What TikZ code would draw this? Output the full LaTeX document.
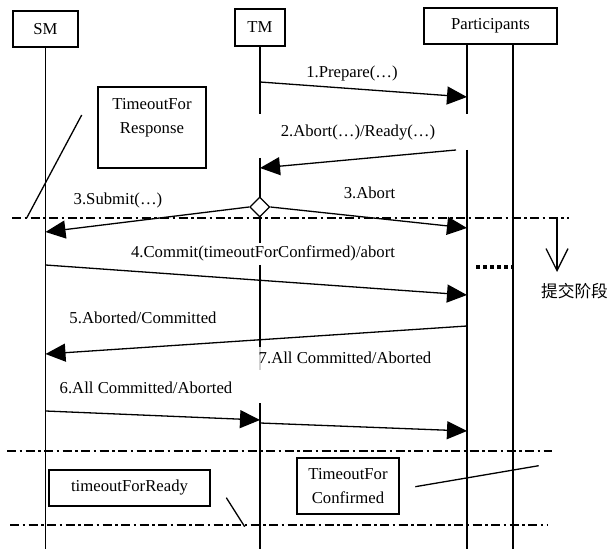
\documentclass[tikz,border=0pt]{standalone}
\usepackage{fontspec}
\setmainfont{Liberation Serif}
\newfontfamily\cjkfont{Noto Sans CJK SC}
\usetikzlibrary{arrows.meta,shapes.geometric}

\begin{document}
\begin{tikzpicture}[x=0.5pt,y=-0.5pt,font=\fontsize{8.35}{12}\selectfont,
  obj/.style={rectangle,draw,line width=0.85pt,minimum height=18pt,inner sep=0pt},
  note/.style={rectangle,draw,line width=0.7pt,align=center,inner sep=0pt},
  life/.style={line width=0.65pt},
  msg/.style={-{Triangle[length=10pt,width=9pt]},line width=0.65pt},
  lbl/.style={inner sep=0pt},
  sep/.style={line width=0.7pt,dash pattern=on 4.5pt off 1.75pt on 1.25pt off 1.75pt}]
\useasboundingbox (0,0) rectangle (609,549);
% objects and lifelines
\node[obj,minimum width=32.5pt] (sm) at (45.5,29) {SM};
\node[obj,minimum width=25pt,minimum height=18.5pt] (tm) at (260,27.5) {TM};
\node[obj,minimum width=66.5pt] (pt) at (490.5,26) {Participants};
\coordinate (p1) at (467,44); \coordinate (p2) at (513,44); \coordinate (bot) at (0,549);
\draw[life] (sm) -- (sm |- bot);
\draw[life] (tm) -- (tm |- 0,114) (tm |- 0,158) -- (tm |- 0,243) (tm |- 0,265) -- (tm |- 0,347) (tm |- 0,403) -- (tm |- bot);
\draw[life,gray!35] (tm |- 0,347) -- (tm |- 0,370);
\draw[life] (p1) -- (p1 |- 0,114) (p1 |- 0,150) -- (p1 |- bot);
\draw[life] (p2) -- (p2 |- bot);
% phase separators
\draw[sep] (12,218) -- (569,218);
\draw[sep] (7,451) -- (552,451);
\draw[sep] (10,525) -- (548,525);
% timeout notes
\node[note,minimum width=54pt,minimum height=40.5pt] (resp) at (152,127.5) {TimeoutFor\\Response\\~};
\node[note,minimum width=80.5pt,minimum height=18pt] (rdy) at (129.5,488) {timeoutForReady};
\node[note,minimum width=51pt,minimum height=28pt] (conf) at (348,486) {TimeoutFor\\Confirmed};
\draw[life] (81.7,115) -- (26.7,218);
\draw[life] (226.3,497.7) -- (244.7,526.7);
\draw[life] (415.3,486.7) -- (538.7,465.7);
% messages
\node[diamond,draw,fill=white,line width=0.65pt,minimum width=10pt,minimum height=10pt,inner sep=0pt] (dm) at (259.7,207) {};
\coordinate (r2) at (456,150);
\draw[msg] (tm |- 0,82) -- (p1 |- 0,97);
\draw[msg] (r2) -- (tm |- 0,168);
\draw[msg] (dm.west) -- (sm |- 0,232);
\draw[msg] (dm.east) -- (p1 |- 0,228);
\draw[msg] (sm |- 0,265) -- (p1 |- 0,295);
\draw[msg] (p1 |- 0,326) -- (sm |- 0,354);
\draw[msg] (sm |- 0,411) -- (tm |- 0,420);
\draw[msg] (tm |- 0,423) -- (p1 |- 0,431);
\node[lbl] (l1) at (352,73) {1.Prepare(…)};
\node[lbl] (l2) at (358,133) {2.Abort(…)/Ready(…)};
\node[lbl] (l3a) at (118,200) {3.Submit(…)};
\node[lbl] (l3b) at (369.5,193) {3.Abort};
\node[lbl] (l4) at (263,253) {4.Commit(timeoutForConfirmed)/abort};
\node[lbl] (l5) at (143,318) {5.Aborted/Committed};
\node[lbl] (l6) at (146,388) {6.All Committed/Aborted};
\node[lbl] (l7) at (345,358) {7.All Committed/Aborted};
% commit phase marker
\draw[line width=1.6pt,dash pattern=on 2.2pt off 1.3pt] (476,267) -- (p2 |- 0,267);
\coordinate (ph0) at (557,219); \coordinate (ph1) at (557,272);
\draw[-{Straight Barb[length=11pt,width=11pt]},line width=0.65pt] (ph0) -- (ph1);
\node[font=\cjkfont\fontsize{8.35}{12}\selectfont,inner sep=0pt] (ph) at (574.5,291) {提交阶段};
\end{tikzpicture}
\end{document}
